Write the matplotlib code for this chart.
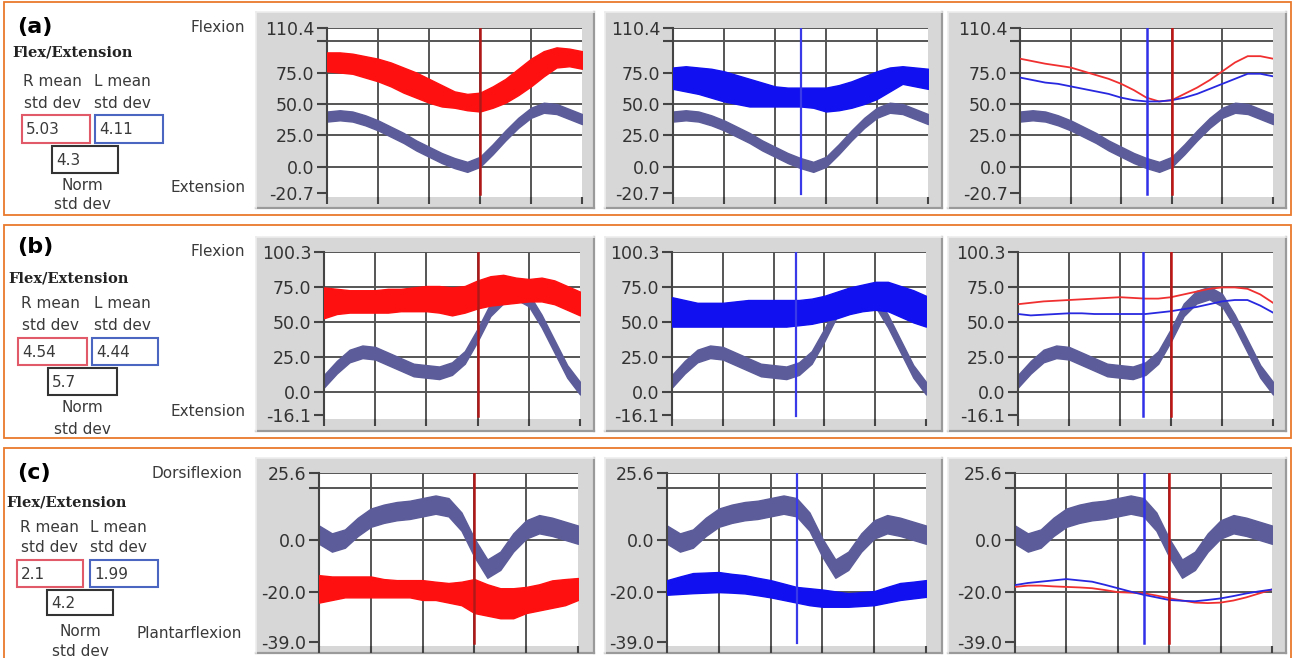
import matplotlib
matplotlib.use("Agg")
import matplotlib.pyplot as plt
from matplotlib.patches import Rectangle
from matplotlib.lines import Line2D

W, H = 1296, 658
fig = plt.figure(figsize=(W / 100, H / 100), dpi=100)
fig.patch.set_facecolor("white")

# ------------------------------------------------------------------ data
pct = list(range(0, 101, 5))          # % gait cycle
x_ticks = [0, 20, 40, 60, 80, 100]

# ---- row (a)
a_norm = [40, 41, 40, 37, 33, 28, 23, 17, 12, 7, 3, 0, 4, 14, 25, 35, 43, 47, 46, 42, 38]
a_norm_half = 4.0
a_red_hi = [91, 91, 90, 88, 86, 83, 79, 75, 70, 65, 60, 58, 59, 64, 70, 78, 86, 92, 95, 94, 92]
a_red_lo = [76, 75, 74, 71, 68, 64, 59, 55, 51, 48, 47, 45, 44, 47, 51, 57, 64, 72, 79, 80, 78]
a_blue_hi = [79, 80, 79, 78, 76, 73, 70, 67, 64, 63, 63, 63, 63, 65, 68, 72, 76, 79, 80, 79, 78]
a_blue_lo = [62, 60, 58, 55, 52, 50, 48, 48, 48, 48, 48, 47, 44, 45, 47, 50, 54, 60, 66, 64, 62]
a_red_mean = [86, 84, 82, 80.5, 79, 76, 73, 70, 66, 61, 55, 52, 53, 58, 63, 69, 76, 83, 88, 88, 86]
a_blue_mean = [71, 69, 67, 66, 64, 62, 60, 58, 55, 53, 52, 52, 53, 55, 58, 62, 66, 70, 74, 74, 72]
a_r_event, a_l_event = 60, 50
a_yticks = [-20.7, 0, 25, 50, 75, 100, 110.4]
a_ylabels = ["-20.7", "0.0", "25.0", "50.0", "75.0", "", "110.4"]
a_stats = ["5.03", "4.11", "4.3"]
a_axis_names = ["Flexion", "Extension"]

# ---- row (b)
b_norm = [8, 18, 26, 29, 28, 24, 20, 16, 15, 14, 17, 25, 41, 59, 68, 71, 66, 51, 33, 15, 3]
b_norm_half = 4.5
b_red_hi = [75, 74, 73, 73, 73, 74, 74, 75, 76, 76, 75, 76, 80, 83, 84, 82, 81, 82, 80, 76, 72]
b_red_lo = [53, 56, 57, 57, 57, 57, 58, 58, 58, 57, 55, 57, 60, 62, 63, 64, 65, 65, 63, 59, 55]
b_blue_hi = [68, 66, 64, 64, 64, 65, 66, 66, 66, 66, 66, 67, 69, 72, 75, 77, 79, 79, 76, 73, 69]
b_blue_lo = [47, 47, 47, 47, 47, 47, 47, 47, 47, 47, 48, 49, 51, 53, 56, 58, 59, 58, 54, 50, 47]
b_red_mean = [63, 64, 65, 65.5, 66, 66.5, 67, 67.5, 68, 67.5, 67, 67, 68, 70, 72, 74, 75, 75, 74, 70, 64]
b_blue_mean = [56, 55, 55.5, 56, 56.5, 56.5, 56, 56, 56, 56, 56, 57, 58, 59.5, 61, 63, 65, 66, 66, 62, 57]
b_r_event, b_l_event = 60, 49
b_yticks = [-16.1, 0, 25, 50, 75, 100.3]
b_ylabels = ["-16.1", "0.0", "25.0", "50.0", "75.0", "100.3"]
b_stats = ["4.54", "4.44", "5.7"]
b_axis_names = ["Flexion", "Extension"]

# ---- row (c)
c_norm = [2, -1, 0.5, 5, 8.5, 10, 11, 11.5, 12.5, 13.5, 12.5, 7, -3, -11, -8, -1, 4, 6, 5, 3.5, 2]
c_norm_half = 3.5
c_red_hi = [-13.5, -14, -14, -14, -14, -15, -15.4, -15.4, -15.4, -16, -16.5, -16, -15, -17,
            -18.5, -18.5, -18, -17, -15.5, -15, -14.6]
c_red_lo = [-24, -23, -22, -22, -22, -22, -22, -22, -23, -23, -24, -25, -28, -29, -30, -30,
            -28, -27, -26, -25, -23]
c_blue_hi = [-15.4, -14, -12.7, -12.5, -12.3, -13, -13.5, -14.5, -15.4, -16.7, -18, -18.5, -19,
             -19.7, -20.4, -20, -19.6, -18, -16.5, -16, -15.4]
c_blue_lo = [-21, -20.7, -20.4, -20.2, -20, -20.2, -20.5, -21.2, -22, -23, -24, -25, -25.6,
             -25.6, -25.6, -25.3, -25, -24, -23, -22.4, -21.8]
c_red_mean = [-18, -17.5, -17.5, -17.8, -18, -18.2, -18.5, -19.2, -20, -20.2, -20.4, -21.3,
              -22.3, -23.2, -24, -24.2, -24, -23.2, -22, -20.5, -19]
c_blue_mean = [-17.3, -16.5, -16, -15.5, -15, -15.5, -16, -17.2, -18.5, -19.8, -21, -22, -23,
               -23.3, -23.5, -23, -22.4, -21.5, -20.5, -19.7, -19]
c_r_event, c_l_event = 60, 50
c_yticks = [-39.0, -20, 0, 20, 25.6]
c_ylabels = ["-39.0", "-20.0", "0.0", "", "25.6"]
c_stats = ["2.1", "1.99", "4.2"]
c_axis_names = ["Dorsiflexion", "Plantarflexion"]

row_letters = ["(a)", "(b)", "(c)"]
side_title = "Flex/Extension"

# ------------------------------------------------------------------ style / layout
NORM_C = "#5C5C9A"
RED_C = "#FF1010"
BLUE_C = "#1010F0"
TXT_C = "#3a3a3a"
GRID_C = "#555555"
ORANGE = "#E8792C"


def fx(x):
    return x / W


def fy(y):
    return 1 - y / H


def frect(x0, y0, x1, y1, **kw):
    r = Rectangle((fx(x0), fy(y1)), (x1 - x0) / W, (y1 - y0) / H,
                  transform=fig.transFigure, **kw)
    fig.add_artist(r)
    return r


def fline(xs, ys, **kw):
    fig.add_artist(Line2D([fx(v) for v in xs], [fy(v) for v in ys],
                          transform=fig.transFigure, **kw))


def ftext(x, y, s, **kw):
    kw.setdefault("color", TXT_C)
    kw.setdefault("va", "center")
    fig.text(fx(x), fy(y), s, **kw)


rows = [
    dict(norm=a_norm, half=a_norm_half, red_hi=a_red_hi, red_lo=a_red_lo,
         blue_hi=a_blue_hi, blue_lo=a_blue_lo, red_mean=a_red_mean, blue_mean=a_blue_mean,
         r_ev=a_r_event, l_ev=a_l_event, yticks=a_yticks, ylabels=a_ylabels,
         stats=a_stats, names=a_axis_names,
         frame=(4, 2, 1291, 215), gray=(12, 208), plot_y=(28, 197),
         plot_x=[(327, 582), (673, 928), (1020, 1273)],
         lab=dict(letter=(17, 27), title=(12, 53), rm=52, lm=122, l1=82, l2=103,
                  rbox=(22, 115, 90, 143), bbox=(95, 115, 163, 143), kbox=(52, 146, 118, 173),
                  norm_x=82, n1=185, n2=205, top=28, bot=187, right=245)),
    dict(norm=b_norm, half=b_norm_half, red_hi=b_red_hi, red_lo=b_red_lo,
         blue_hi=b_blue_hi, blue_lo=b_blue_lo, red_mean=b_red_mean, blue_mean=b_blue_mean,
         r_ev=b_r_event, l_ev=b_l_event, yticks=b_yticks, ylabels=b_ylabels,
         stats=b_stats, names=b_axis_names,
         frame=(4, 225, 1291, 438), gray=(237, 431), plot_y=(252, 419),
         plot_x=[(324, 580), (672, 926), (1018, 1273)],
         lab=dict(letter=(17, 247), title=(8, 278), rm=50, lm=122, l1=303, l2=326,
                  rbox=(18, 338, 87, 365), bbox=(92, 338, 158, 365), kbox=(48, 368, 117, 395),
                  norm_x=82, n1=408, n2=429, top=252, bot=411, right=245)),
    dict(norm=c_norm, half=c_norm_half, red_hi=c_red_hi, red_lo=c_red_lo,
         blue_hi=c_blue_hi, blue_lo=c_blue_lo, red_mean=c_red_mean, blue_mean=c_blue_mean,
         r_ev=c_r_event, l_ev=c_l_event, yticks=c_yticks, ylabels=c_ylabels,
         stats=c_stats, names=c_axis_names,
         frame=(4, 448, 1291, 664), gray=(458, 653), plot_y=(473, 646),
         plot_x=[(319, 578), (667, 926), (1015, 1272)],
         lab=dict(letter=(17, 473), title=(6, 502), rm=49, lm=118, l1=527, l2=547,
                  rbox=(17, 560, 83, 587), bbox=(90, 560, 158, 587), kbox=(47, 590, 113, 615),
                  norm_x=80, n1=632, n2=652, top=473, bot=633, right=242)),
]

gray_x = [(256, 594), (605, 942), (948, 1286)]

for ri, row in enumerate(rows):
    fx0, fy0, fx1, fy1 = row["frame"]
    frect(fx0, fy0, fx1, fy1, facecolor="none", edgecolor=ORANGE, lw=1.3, zorder=5)

    gy0, gy1 = row["gray"]
    for gx0, gx1 in gray_x:
        frect(gx0, gy0, gx1, gy1, facecolor="#D7D7D7", edgecolor="none", zorder=-2)
        fline([gx1, gx1], [gy0, gy1], color="#9A9A9A", lw=1.6, zorder=-1)
        fline([gx0, gx1], [gy1, gy1], color="#9A9A9A", lw=1.6, zorder=-1)
        fline([gx0, gx0], [gy0, gy1], color="#EDEDED", lw=1.2, zorder=-1)
        fline([gx0, gx1], [gy0, gy0], color="#EDEDED", lw=1.2, zorder=-1)

    ymin, ymax = row["yticks"][0], row["yticks"][-1]
    py0, py1 = row["plot_y"]
    for ci, (px0, px1) in enumerate(row["plot_x"]):
        ax = fig.add_axes([fx(px0), fy(py1), (px1 - px0) / W, (py1 - py0) / H])
        ax.set_facecolor("white")
        ax.set_xlim(0, 100)
        ax.set_ylim(ymin - 0.025 * (ymax - ymin), ymax)
        for s in ["top", "right", "bottom"]:
            ax.spines[s].set_visible(False)
        ax.spines["left"].set_color("#444444")
        ax.spines["left"].set_linewidth(1.5)
        ax.set_yticks(row["yticks"], row["ylabels"])
        ax.set_xticks(x_ticks, [""] * len(x_ticks))
        ax.tick_params(axis="y", direction="out", length=7, width=1.5, color="#444444",
                       labelsize=12.5, labelcolor="#333333", pad=2)
        ax.tick_params(axis="x", direction="out", length=5, width=1.5, color="#444444", pad=0)
        for t in x_ticks[1:-1]:
            ax.axvline(t, color=GRID_C, lw=1.4, zorder=0.5)
        for t in row["yticks"][1:]:
            ax.axhline(t, color=GRID_C, lw=1.4, zorder=0.5)

        lo = [m - row["half"] for m in row["norm"]]
        hi = [m + row["half"] for m in row["norm"]]
        ax.fill_between(pct, lo, hi, color=NORM_C, lw=1.0, edgecolor=NORM_C, zorder=2)

        if ci == 0:
            ax.fill_between(pct, row["red_lo"], row["red_hi"], color=RED_C, lw=1.0,
                            edgecolor=RED_C, zorder=3)
            ax.axvline(row["r_ev"], ymin=0.02, color="#B01818", lw=1.8, zorder=4)
        elif ci == 1:
            ax.fill_between(pct, row["blue_lo"], row["blue_hi"], color=BLUE_C, lw=1.0,
                            edgecolor=BLUE_C, zorder=3)
            ax.axvline(row["l_ev"], ymin=0.02, color="#3A3AE8", lw=1.6, zorder=4)
        else:
            ax.plot(pct, row["red_mean"], color="#F03030", lw=1.3, zorder=3)
            ax.plot(pct, row["blue_mean"], color="#2828E0", lw=1.3, zorder=3)
            ax.axvline(row["l_ev"], ymin=0.02, color="#3030E8", lw=1.8, zorder=4)
            ax.axvline(row["r_ev"], ymin=0.02, color="#C01515", lw=1.8, zorder=4)

    # left-side annotations
    L = row["lab"]
    ftext(L["letter"][0], L["letter"][1], row_letters[ri], fontsize=16,
          fontweight="bold", color="black", ha="left")
    ftext(L["title"][0], L["title"][1], side_title, fontsize=10.5, fontweight="bold",
          family="DejaVu Serif", color="#222222", ha="left")
    ftext(L["rm"], L["l1"], "R mean", fontsize=11, ha="center")
    ftext(L["rm"], L["l2"], "std dev", fontsize=11, ha="center")
    ftext(L["lm"], L["l1"], "L mean", fontsize=11, ha="center")
    ftext(L["lm"], L["l2"], "std dev", fontsize=11, ha="center")
    for box, col, val in [(L["rbox"], "#E05A6A", row["stats"][0]),
                          (L["bbox"], "#4A66C0", row["stats"][1]),
                          (L["kbox"], "#333333", row["stats"][2])]:
        x0, y0, x1, y1 = box
        frect(x0, y0, x1, y1, facecolor="white", edgecolor=col, lw=1.5, zorder=2)
        ftext(x0 + 4, (y0 + y1) / 2 + 1, val, fontsize=11, ha="left", zorder=3)
    ftext(L["norm_x"], L["n1"], "Norm", fontsize=11, ha="center")
    ftext(L["norm_x"], L["n2"], "std dev", fontsize=11, ha="center")
    ftext(L["right"], L["top"], row["names"][0], fontsize=11, ha="right")
    ftext(L["right"], L["bot"], row["names"][1], fontsize=11, ha="right")

fig.savefig("out.png", dpi=100, facecolor="white")
